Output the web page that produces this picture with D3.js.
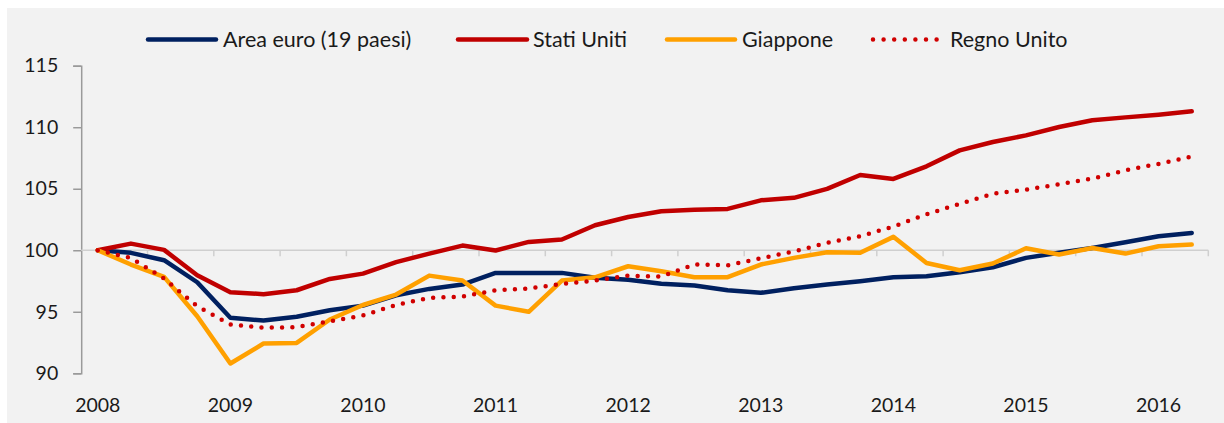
<!DOCTYPE html>
<html>
<head>
<meta charset="utf-8">
<script src="https://cdn.jsdelivr.net/npm/d3@7"></script>
<style>
    html, body { margin: 0; padding: 0; background: #ffffff; }
    #chart { width: 1224px; height: 423px; }
    text { font-family: Lato, 'Open Sans', sans-serif; fill: #1a1a1a; }
</style>
</head>
<body>
<div id="chart"></div>
<script>
// --- Data (index 2008 Q1 = 100, quarterly) ---
const years = ['2008', '2009', '2010', '2011', '2012', '2013', '2014', '2015', '2016'];
const quarters = years.flatMap(y => ['T1', 'T2', 'T3', 'T4'].map(q => y + q)).slice(0, 34); // 2008T1 .. 2016T2
const yTicks = [90, 95, 100, 105, 110, 115];

const areaEuro = [100, 99.79, 99.19, 97.4, 94.51, 94.29, 94.59, 95.13, 95.5, 96.34, 96.86, 97.21, 98.16, 98.16, 98.16, 97.76, 97.6,
    97.27, 97.13, 96.75, 96.54, 96.91, 97.21, 97.48, 97.81, 97.89, 98.21, 98.62, 99.38, 99.79, 100.19, 100.65, 101.14, 101.41];
const statiUniti = [100, 100.54, 100.03, 97.97, 96.59, 96.43, 96.75, 97.67, 98.1, 99.03, 99.73, 100.38, 99.98, 100.68, 100.87, 102.03, 102.7,
    103.17, 103.3, 103.36, 104.06, 104.26, 104.99, 106.12, 105.8, 106.82, 108.12, 108.8, 109.34, 110.02, 110.56, 110.8, 111.02, 111.29];
const giappone = [100, 98.84, 97.84, 94.64, 90.8, 92.42, 92.47, 94.37, 95.55, 96.4, 97.94, 97.54, 95.5, 95.0, 97.54, 97.8, 98.7,
    98.29, 97.81, 97.81, 98.84, 99.38, 99.84, 99.79, 101.09, 98.97, 98.38, 98.92, 100.16, 99.65, 100.19, 99.73, 100.33, 100.46];
const regnoUnito = [100, 99.38, 97.7, 95.45, 93.96, 93.7, 93.75, 94.23, 94.7, 95.56, 96.13, 96.24, 96.75, 96.89, 97.27, 97.54, 97.93,
    97.86, 98.84, 98.78, 99.35, 99.9, 100.6, 101.14, 101.93, 102.92, 103.77, 104.6, 104.93, 105.36, 105.82, 106.5, 107.02, 107.61];

const series = [
    { name: 'Area euro (19 paesi)', values: areaEuro, color: '#002060', dotted: false },
    { name: 'Stati Uniti', values: statiUniti, color: '#c00000', dotted: false },
    { name: 'Giappone', values: giappone, color: '#ffa000', dotted: false },
    { name: 'Regno Unito', values: regnoUnito, color: '#d00000', dotted: true }
];

// --- Chart ---
function renderChart() {
    const W = 1224, H = 423;
    const plot = { left: 81.2, right: 1208.3, top: 65.7, bottom: 373.3 };

    const svg = d3.select('#chart')
        .append('svg')
        .attr('width', W)
        .attr('height', H);

    // grey chart area
    svg.append('rect')
        .attr('x', 7).attr('y', 8)
        .attr('width', W - 7).attr('height', H - 8)
        .attr('fill', '#f2f2f2');

    const xScale = d3.scaleBand()
        .domain(quarters)
        .range([plot.left, plot.right])
        .paddingInner(0)
        .paddingOuter(0);
    const xMid = q => xScale(q) + xScale.bandwidth() / 2;

    const yScale = d3.scaleLinear()
        .domain([90, 115])
        .range([plot.bottom, plot.top]);

    // Y axis (left)
    const yAxis = svg.append('g')
        .attr('transform', `translate(${plot.left}, 0)`)
        .call(d3.axisLeft(yScale).tickValues(yTicks).tickSize(8).tickPadding(15));
    yAxis.select('.domain').attr('stroke', '#9a9a9a').attr('stroke-width', 1.5);
    yAxis.selectAll('.tick line').attr('stroke', '#9a9a9a').attr('stroke-width', 1.5);
    yAxis.selectAll('.tick text')
        .style('font-size', '19.5px')
        .style('font-family', 'Lato')
        .attr('fill', '#1a1a1a');

    // X axis crosses at 100, ticks every two quarters at band edges
    const xAxisY = yScale(100);
    const edgeTicks = quarters.filter((q, i) => i % 2 === 1).map(q => xScale(q) + xScale.bandwidth());
    svg.append('line')
        .attr('x1', plot.left).attr('x2', plot.right)
        .attr('y1', xAxisY).attr('y2', xAxisY)
        .attr('stroke', '#cfcfcf').attr('stroke-width', 1.5);
    svg.selectAll('.xtick')
        .data(edgeTicks)
        .enter()
        .append('line')
        .attr('class', 'xtick')
        .attr('x1', d => d).attr('x2', d => d)
        .attr('y1', xAxisY).attr('y2', xAxisY + 6)
        .attr('stroke', '#cfcfcf').attr('stroke-width', 1.5);

    // year labels sit low, under the first quarter of each year
    svg.selectAll('.xlabel')
        .data(years)
        .enter()
        .append('text')
        .attr('class', 'xlabel')
        .attr('x', y => xMid(y + 'T1'))
        .attr('y', 405.5)
        .attr('dy', '0.35em')
        .attr('text-anchor', 'middle')
        .style('font-size', '19.5px')
        .text(y => y);

    // Lines
    const line = d3.line()
        .x((d, i) => xMid(quarters[i]))
        .y(d => yScale(d));

    series.forEach(s => {
        const path = svg.append('path')
            .datum(s.values)
            .attr('d', line)
            .attr('fill', 'none')
            .attr('stroke', s.color)
            .attr('stroke-width', 4.5)
            .attr('stroke-linejoin', 'round')
            .attr('stroke-linecap', 'round');
        if (s.dotted) path.attr('stroke-dasharray', '0 10.3');
    });

    // Legend
    const legendPos = [
        { x1: 148, x2: 216, tx: 223 },
        { x1: 458, x2: 527, tx: 533 },
        { x1: 667, x2: 735, tx: 742 },
        { x1: 873, x2: 937, tx: 950 }
    ];
    const legendY = 39.5;
    series.forEach((s, i) => {
        const p = legendPos[i];
        const l = svg.append('line')
            .attr('x1', p.x1).attr('x2', p.x2)
            .attr('y1', legendY).attr('y2', legendY)
            .attr('stroke', s.color)
            .attr('stroke-width', 4.5)
            .attr('stroke-linecap', 'round');
        if (s.dotted) l.attr('stroke-dasharray', '0 10.6');
        svg.append('text')
            .attr('x', p.tx)
            .attr('y', legendY)
            .attr('dy', '0.35em')
            .style('font-size', '21.5px')
            .text(s.name);
    });
}

document.addEventListener('DOMContentLoaded', () => {
    renderChart();
});
</script>
</body>
</html>
